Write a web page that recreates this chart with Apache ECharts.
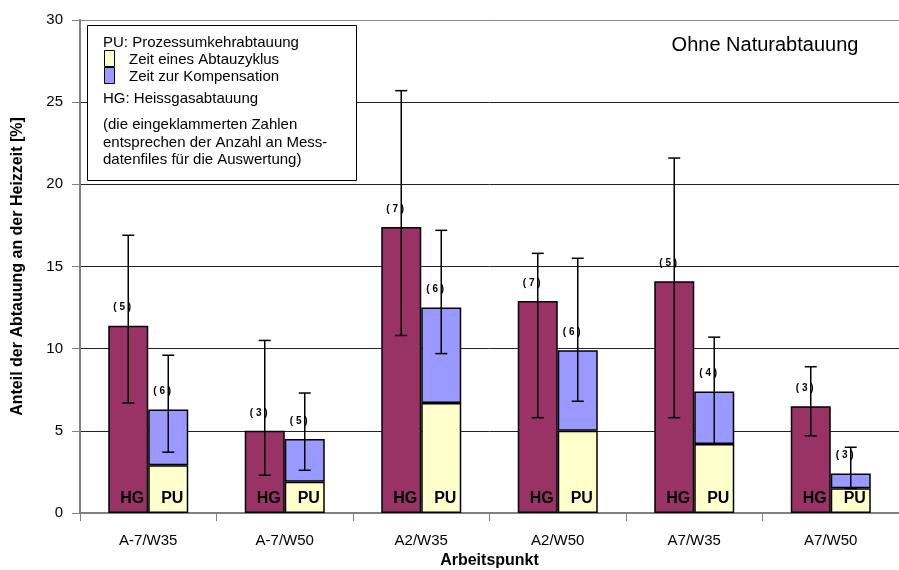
<!DOCTYPE html>
<html>
<head>
<meta charset="utf-8">
<script src="https://cdn.jsdelivr.net/npm/echarts@6/dist/echarts.min.js"></script>
<style>
  html, body { margin: 0; padding: 0; background: #fff; }
  #chart { width: 899px; height: 570px; }
</style>
</head>
<body>
<div id="chart"></div>
<script>
// Operating points
const categories = ['A-7/W35', 'A-7/W50', 'A2/W35', 'A2/W50', 'A7/W35', 'A7/W50'];

// Hot-gas defrosting (HG): share of heating time [%] with spread
const hgValues  = [11.4, 5.0, 17.4, 12.9, 14.1, 6.5];
const hgErrLow  = [6.7, 2.3, 10.8, 5.8, 5.8, 4.7];
const hgErrHigh = [16.9, 10.5, 25.7, 15.8, 21.6, 8.9];
const hgCounts  = [5, 3, 7, 7, 5, 3];

// Reverse-cycle defrosting (PU): defrost cycle time + compensation time [%]
const puCycle   = [2.9, 1.9, 6.7, 5.0, 4.2, 1.5];
const puComp    = [3.4, 2.6, 5.8, 4.9, 3.2, 0.9];
const puErrLow  = [3.7, 2.6, 9.7, 6.8, 4.2, 1.5];
const puErrHigh = [9.6, 7.3, 17.2, 15.5, 10.7, 4.0];
const puCounts  = [6, 5, 6, 6, 4, 3];

// Value axis ticks
const yTicks = [0, 5, 10, 15, 20, 25, 30];

const FONT = 'Liberation Sans, Arial, sans-serif';
const BAR_W = 40;

function errorItems(low, high, tops, counts) {
  return categories.map((c, i) => [i, low[i], high[i], tops[i], counts[i]]);
}

const puTops = puCycle.map((v, i) => v + puComp[i]);

function errorRenderer(shift) {
  return function (params, api) {
    const i = api.value(0);
    const lo = api.coord([i, api.value(1)]);
    const hi = api.coord([i, api.value(2)]);
    const top = api.coord([i, api.value(3)]);
    const x = lo[0] + shift;
    const lineStyle = { stroke: '#000', lineWidth: 1.5 };
    return {
      type: 'group',
      children: [
        { type: 'line', shape: { x1: x, y1: lo[1], x2: x, y2: hi[1] }, style: lineStyle },
        { type: 'line', shape: { x1: x - 6, y1: hi[1], x2: x + 6, y2: hi[1] }, style: lineStyle },
        { type: 'line', shape: { x1: x - 6, y1: lo[1], x2: x + 6, y2: lo[1] }, style: lineStyle },
        {
          type: 'text',
          style: {
            x: x - 6, y: top[1] - 18,
            text: '( ' + api.value(4) + ' )',
            fill: '#000',
            font: 'bold 10px ' + FONT,
            textAlign: 'center', textVerticalAlign: 'middle'
          }
        }
      ]
    };
  };
}

const chart = echarts.init(document.getElementById('chart'), null, { renderer: 'canvas' });

const legendLines = [
  { text: 'PU: Prozessumkehrabtauung', x: 103, y: 43 },
  { text: 'Zeit eines Abtauzyklus', x: 129, y: 60 },
  { text: 'Zeit zur Kompensation', x: 129, y: 77 },
  { text: 'HG: Heissgasabtauung', x: 103, y: 99 },
  { text: '(die eingeklammerten Zahlen', x: 103, y: 125 },
  { text: 'entsprechen der Anzahl an Mess-', x: 103, y: 143 },
  { text: 'datenfiles für die Auswertung)', x: 103, y: 160 }
];

chart.setOption({
  animation: false,
  backgroundColor: '#fff',
  grid: { left: 80, right: 0, top: 20, bottom: 57, containLabel: false, outerBoundsMode: 'none' },
  xAxis: {
    type: 'category',
    data: categories,
    boundaryGap: true,
    name: 'Arbeitspunkt',
    nameLocation: 'middle',
    nameGap: 37,
    nameTextStyle: { fontFamily: FONT, fontSize: 16, fontWeight: 'bold', color: '#000' },
    axisLine: { lineStyle: { color: '#808080', width: 2 } },
    axisTick: { show: true, length: 8, lineStyle: { color: '#808080', width: 1 } },
    axisLabel: { fontFamily: FONT, fontSize: 15, color: '#000', margin: 20 },
    splitLine: { show: false }
  },
  yAxis: {
    type: 'value',
    min: yTicks[0],
    max: yTicks[yTicks.length - 1],
    interval: 5,
    name: 'Anteil der Abtauung an der Heizzeit [%]',
    nameLocation: 'middle',
    nameGap: 54,
    nameTextStyle: { fontFamily: FONT, fontSize: 16, fontWeight: 'bold', color: '#000' },
    axisLine: { show: true, lineStyle: { color: '#808080', width: 2 } },
    axisTick: { show: true, length: 8, lineStyle: { color: '#808080', width: 1 } },
    axisLabel: { fontFamily: FONT, fontSize: 15, color: '#000', margin: 17 },
    splitLine: {
      show: true,
      lineStyle: { color: ['#222', '#222', '#222', '#222', '#222', '#222', '#888'], width: 1 }
    }
  },
  series: [
    {
      name: 'HG',
      type: 'bar',
      stack: 'hg',
      data: hgValues,
      barWidth: BAR_W,
      barGap: '0%',
      itemStyle: { color: '#993366', borderColor: '#000', borderWidth: 1.5 },
      label: {
        show: true, position: 'insideBottom', distance: 6, offset: [4, 0],
        formatter: 'HG', fontFamily: FONT, fontSize: 16, fontWeight: 'bold', color: '#000'
      },
      z: 2
    },
    {
      name: 'Zeit eines Abtauzyklus',
      type: 'bar',
      stack: 'pu',
      data: puCycle,
      barWidth: BAR_W,
      barGap: '0%',
      itemStyle: { color: '#FFFFCC', borderColor: '#000', borderWidth: 1.5 },
      label: {
        show: true, position: 'insideBottom', distance: 6, offset: [4, 0],
        formatter: 'PU', fontFamily: FONT, fontSize: 16, fontWeight: 'bold', color: '#000'
      },
      z: 2
    },
    {
      name: 'Zeit zur Kompensation',
      type: 'bar',
      stack: 'pu',
      data: puComp,
      barWidth: BAR_W,
      barGap: '0%',
      itemStyle: { color: '#9999FF', borderColor: '#000', borderWidth: 1.5 },
      z: 2
    },
    {
      name: 'HG spread',
      type: 'custom',
      data: errorItems(hgErrLow, hgErrHigh, hgValues, hgCounts),
      renderItem: errorRenderer(-BAR_W / 2),
      clip: false,
      z: 5
    },
    {
      name: 'PU spread',
      type: 'custom',
      data: errorItems(puErrLow, puErrHigh, puTops, puCounts),
      renderItem: errorRenderer(BAR_W / 2),
      clip: false,
      z: 5
    }
  ],
  graphic: [
    {
      type: 'rect',
      shape: { x: 87.5, y: 25.5, width: 269, height: 155 },
      style: { fill: '#fff', stroke: '#000', lineWidth: 1 },
      z: 10
    },
    {
      type: 'rect',
      shape: { x: 104.5, y: 50.5, width: 10, height: 16 },
      style: { fill: '#FFFFCC', stroke: '#000', lineWidth: 1 },
      z: 11
    },
    {
      type: 'rect',
      shape: { x: 104.5, y: 67.5, width: 10, height: 16 },
      style: { fill: '#9999FF', stroke: '#000', lineWidth: 1 },
      z: 11
    },
    ...legendLines.map(l => ({
      type: 'text',
      x: l.x, y: l.y,
      style: {
        text: l.text, fill: '#000', font: '15px ' + FONT,
        textAlign: 'left', textVerticalAlign: 'middle'
      },
      z: 11
    })),
    {
      type: 'text',
      x: 765, y: 45,
      style: {
        text: 'Ohne Naturabtauung', fill: '#000', font: '20px ' + FONT,
        textAlign: 'center', textVerticalAlign: 'middle'
      },
      z: 11
    }
  ]
});
</script>
</body>
</html>
